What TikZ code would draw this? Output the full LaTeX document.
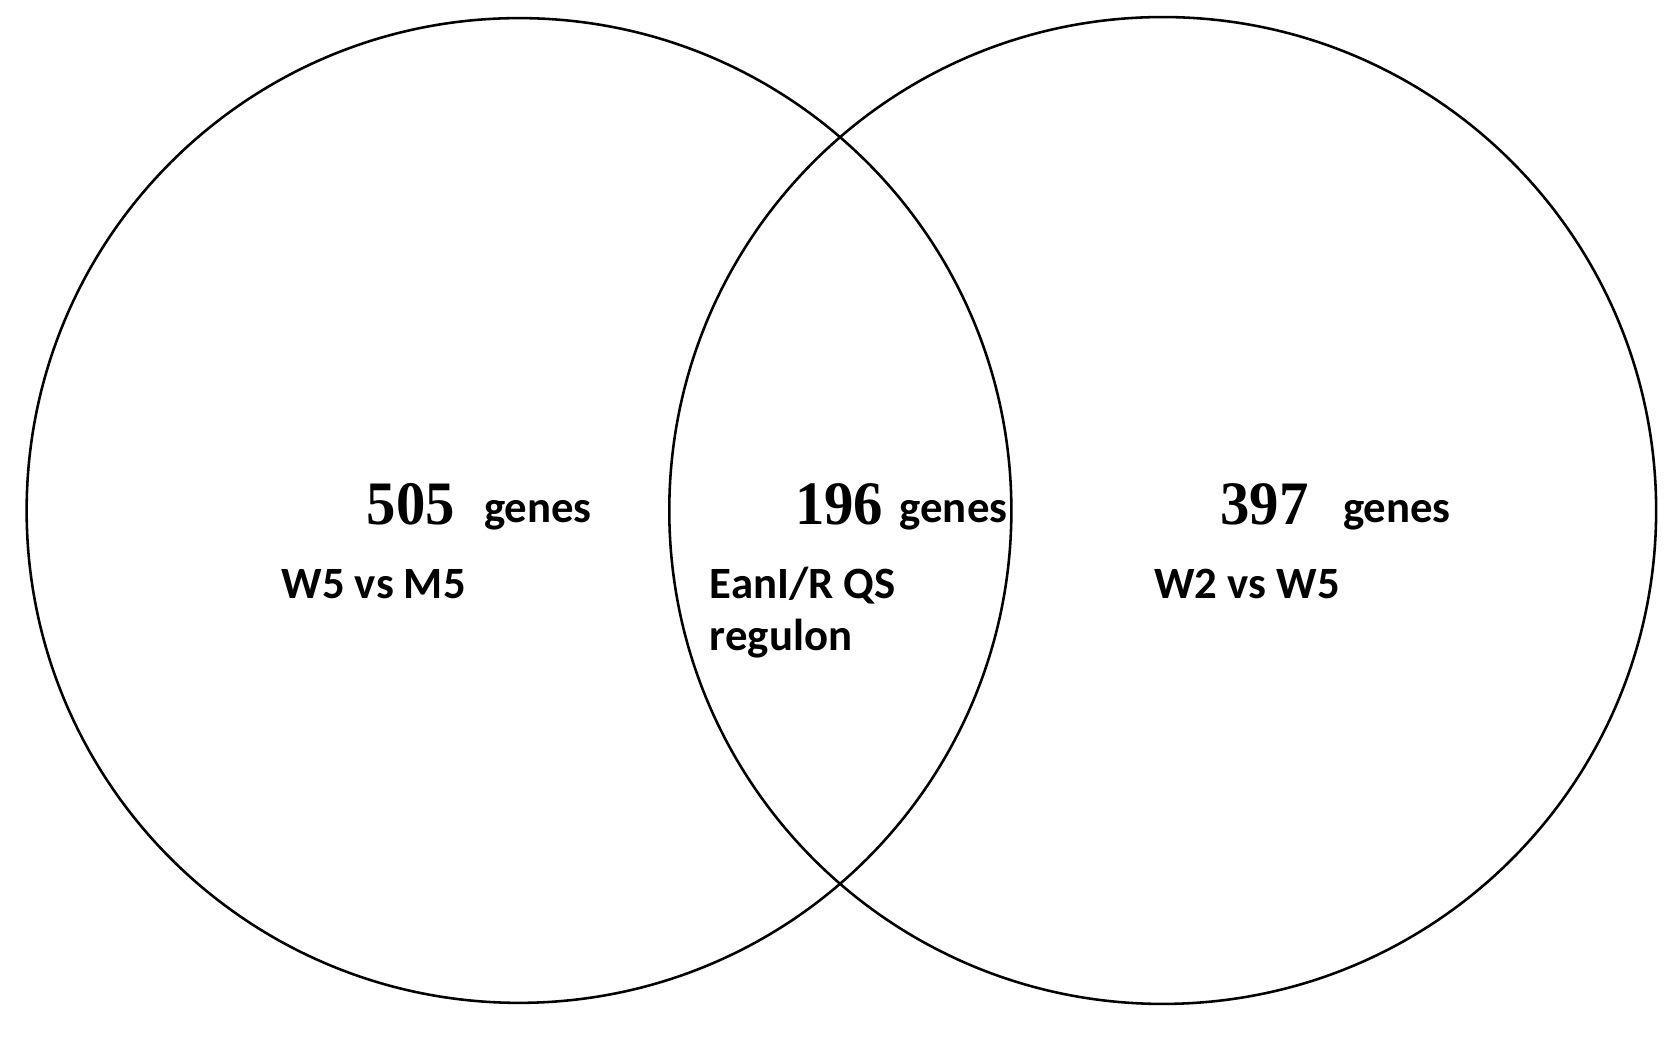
\documentclass[tikz,border=0pt]{standalone}
\usepackage{fontspec}
\setmainfont{Carlito}
\newfontfamily\numfont{Liberation Serif}
\begin{document}
\begin{tikzpicture}[x=1pt,y=-1pt,
  ring/.style={draw=black,line width=2.4pt},
  num/.style={font=\numfont\bfseries\fontsize{58}{58}\selectfont,inner sep=0pt,xscale=0.95},
  lab/.style={font=\bfseries\fontsize{42}{50}\selectfont,inner sep=0pt,align=left}]
\useasboundingbox (0,0) rectangle (1567,976);
\draw[ring] (487,479) circle (462);
\draw[ring] (1091,479) circle (463);
\node[num,anchor=base west] (n1) at (344,492) {505};
\node[lab,anchor=base west] (g1) at (454,490) {genes};
\node[num,anchor=base west] (n2) at (746,492) {196};
\node[lab,anchor=base west] (g2) at (844,490) {genes};
\node[num,anchor=base west] (n3) at (1145,492) {397};
\node[lab,anchor=base west] (g3) at (1260,490) {genes};
\node[lab,anchor=base west] (t1) at (264,562) {W5 vs M5};
\node[lab,anchor=base west] (t2) at (666,562) {EanI/R QS};
\node[lab,anchor=base west] (t2b) at (666,610) {regulon};
\node[lab,anchor=base west] (t3) at (1083,562) {W2 vs W5};
\end{tikzpicture}
\end{document}
